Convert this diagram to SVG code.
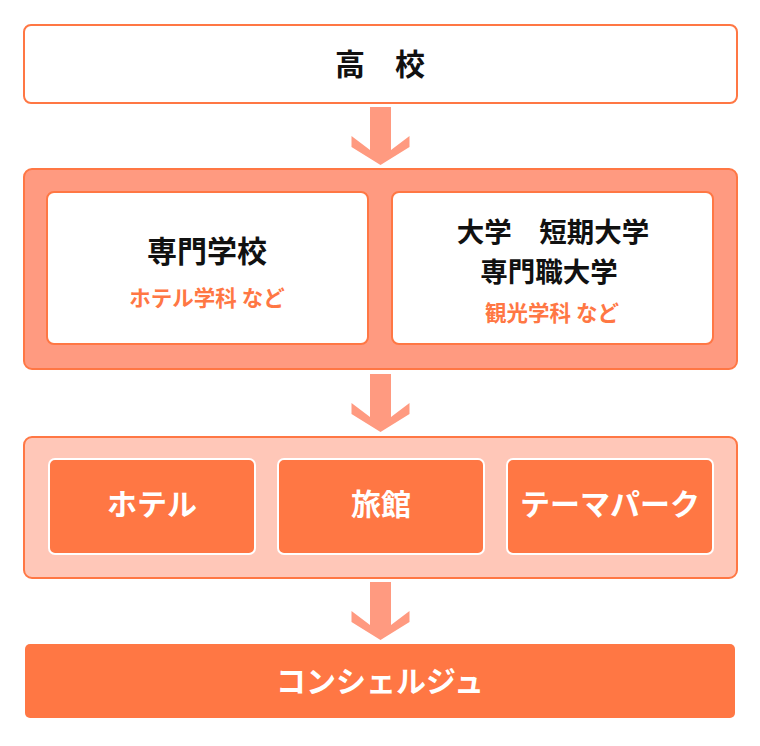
<svg xmlns="http://www.w3.org/2000/svg" width="760" height="746" viewBox="0 0 760 746">
<style>
text{font-family:"Noto Sans CJK JP","Noto Sans",sans-serif;font-weight:bold;text-anchor:middle}
.t{font-size:30px;fill:#111}
.t2{font-size:27.5px;fill:#111}
.s{font-size:21.5px;fill:#FF7744}
.w{font-size:30px;fill:#fff}
.box{fill:#fff;stroke:#FF7744;stroke-width:2}
.mid{fill:#FF9A80;stroke:#FF7744;stroke-width:2}
.lt{fill:#FFC7B8;stroke:#FF7744;stroke-width:2}
.or{fill:#FF7744;stroke:#fff;stroke-width:2}
.arr{fill:#FF9A80}
</style>
<defs>
<path id="arrow" d="M-10.5,0 H10.5 V43 L29,29 V40 L0,58 L-29,40 V29 L-10.5,43 Z"/>
</defs>
<g id="koukou">
<rect class="box" x="24" y="25" width="713" height="78" rx="7"/>
<text class="t" x="380" y="75">高　校</text>
</g>
<g id="stage2">
<rect class="mid" x="24" y="169" width="713" height="200" rx="8"/>
<g id="senmon">
<rect class="box" x="47" y="192" width="321" height="152" rx="7"/>
<text class="t" x="207" y="262">専門学校</text>
<text class="s" x="207" y="306">ホテル学科 など</text>
</g>
<g id="daigaku">
<rect class="box" x="392" y="192" width="321" height="152" rx="7"/>
<text class="t2" x="553" y="242">大学　短期大学</text>
<text class="t2" x="549" y="282">専門職大学</text>
<text class="s" x="552" y="321">観光学科 など</text>
</g>
</g>
<g id="stage3">
<rect class="lt" x="24" y="437" width="713" height="141" rx="8"/>
<g id="hotel">
<rect class="or" x="49" y="459" width="206" height="95" rx="6"/>
<text class="w" x="152" y="515">ホテル</text>
</g>
<g id="ryokan">
<rect class="or" x="278" y="459" width="206" height="95" rx="6"/>
<text class="w" x="381" y="515">旅館</text>
</g>
<g id="themepark">
<rect class="or" x="507" y="459" width="206" height="95" rx="6"/>
<text class="w" x="610" y="515">テーマパーク</text>
</g>
</g>
<g id="concierge">
<rect x="25" y="644" width="710" height="74" rx="5" fill="#FF7744"/>
<text class="w" x="380" y="692">コンシェルジュ</text>
</g>
<g id="connectors">
<use href="#arrow" class="arr" x="380.5" y="107"/>
<use href="#arrow" class="arr" x="380.5" y="374"/>
<use href="#arrow" class="arr" x="380.5" y="582"/>
</g>
</svg>
